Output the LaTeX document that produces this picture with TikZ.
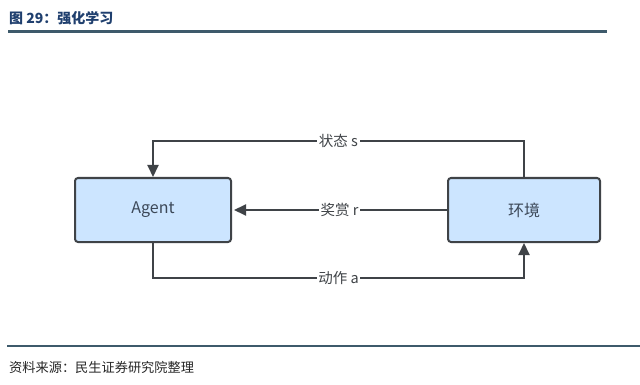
\documentclass[tikz,border=0pt]{standalone}
\usepackage{fontspec}
\setmainfont{Noto Sans CJK SC}
\usetikzlibrary{arrows.meta}
\definecolor{boxfill}{HTML}{CCE5FF}
\definecolor{boxdraw}{HTML}{3F4347}
\definecolor{boxtext}{HTML}{3C4858}
\definecolor{titleblue}{HTML}{1F3F6E}
\definecolor{ruleblue}{HTML}{3E5A6B}
\tikzset{
  box/.style={draw=boxdraw, line width=2pt, fill=boxfill, rounded corners=3pt,
    minimum height=64pt, text=boxtext, font=\fontsize{16}{18}\selectfont},
  conn/.style={draw=boxdraw, line width=2pt, -{Triangle[length=12pt,width=11pt]}},
  lbl/.style={fill=white, inner sep=1.5pt, text=boxdraw, font=\fontsize{14.5}{16}\selectfont},
}
\begin{document}
\begin{tikzpicture}[x=1pt,y=-1pt]
\useasboundingbox (0,0) rectangle (640,385);
% header
\node[anchor=west, inner sep=0pt, text=titleblue, font=\bfseries\fontsize{14}{16}\selectfont] (title) at (9,18) {图 29：强化学习};
\draw[ruleblue, line width=2.4pt] (8,31.5) -- (607,31.5);
% footer
\draw[ruleblue, line width=1.8pt] (7,346) -- (640,346);
\node[anchor=west, inner sep=0pt, text=black!85, font=\fontsize{13.2}{15}\selectfont] (src) at (9,367) {资料来源：民生证券研究院整理};
% boxes
\node[box, minimum width=156pt] (agent) at (153,210) {Agent};
\node[box, minimum width=152pt] (env) at (524,210) {环境};
\coordinate (tl) at (0,141);
\coordinate (bl) at (0,278);
% connectors
\draw[conn] (env.north) -- (env.north |- tl) -- node[lbl]{状态 s} (agent.north |- tl) -- (agent.north);
\draw[conn, shorten >=2pt] (env.west) -- node[lbl]{奖赏 r} (agent.east);
\draw[conn] (agent.south) -- (agent.south |- bl) -- node[lbl]{动作 a} (env.south |- bl) -- (env.south);
\end{tikzpicture}
\end{document}
